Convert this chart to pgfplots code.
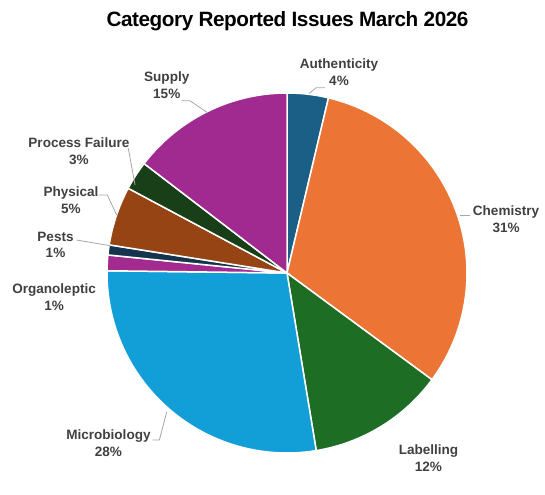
\documentclass[border=0pt]{standalone}
\usepackage{pgfplots}
\pgfplotsset{compat=1.18}
\usepackage{fontspec}
\setmainfont{Liberation Sans}
\newfontfamily\titlefont{Liberation Sans}[LetterSpace=-2.2]
\definecolor{cAuth}{HTML}{1B5F86}
\definecolor{cChem}{HTML}{EC7434}
\definecolor{cLab}{HTML}{1D6D25}
\definecolor{cMic}{HTML}{129ED6}
\definecolor{cOrg}{HTML}{A32B90}
\definecolor{cPes}{HTML}{15354F}
\definecolor{cPhy}{HTML}{974414}
\definecolor{cPro}{HTML}{183F17}
\definecolor{cSup}{HTML}{A02A8F}
\definecolor{lblgray}{HTML}{404040}
\definecolor{leadgray}{HTML}{A6A6A6}
\tikzset{lbl/.style={font=\bfseries\fontsize{13.6}{17}\selectfont, text=lblgray, align=center, inner sep=0pt},
  lead/.style={draw=leadgray, line width=0.8bp}}
% share (%) / colour, clockwise from 12 o'clock
\def\slices{3.7/cAuth, 31.4/cChem, 12.3/cLab, 27.8/cMic, 1.4/cOrg, 0.9/cPes, 5.3/cPhy, 2.6/cPro, 14.6/cSup}
\begin{document}
\begin{tikzpicture}
\begin{axis}[scale only axis, width=545bp, height=495bp,
  xmin=-1.5944, xmax=1.4333, ymin=-1.2333, ymax=1.5167,
  hide axis, clip=false]
\gdef\cum{0}
\foreach \v/\c in \slices {
  \pgfmathsetmacro\a{90-3.6*\cum}
  \pgfmathsetmacro\b{90-3.6*(\cum+\v)}
  \pgfmathsetmacro\n{\cum+\v}
  \xdef\cum{\n}
  \edef\temp{\noexpand\addplot[fill=\c, draw=white, line width=1.5bp, domain=\b:\a, samples=80, variable=\noexpand\t] ({cos(\noexpand\t)},{sin(\noexpand\t)}) -- (axis cs:0,0) -- cycle;}
  \temp
}
\node[anchor=base, font=\titlefont\bfseries\fontsize{20.8}{24}\selectfont] at (axis cs:0.003,1.367) {Category Reported Issues March 2026};
\node[lbl] at (axis cs:0.289,1.114) {Authenticity\\4\%};
\node[lbl] at (axis cs:1.217,0.300) {Chemistry\\31\%};
\node[lbl] at (axis cs:0.786,-1.028) {Labelling\\12\%};
\node[lbl] at (axis cs:-0.992,-0.944) {Microbiology\\28\%};
\node[lbl] at (axis cs:-1.294,-0.133) {Organoleptic\\1\%};
\node[lbl] at (axis cs:-1.286,0.156) {Pests\\1\%};
\node[lbl] at (axis cs:-1.2,0.406) {Physical\\5\%};
\node[lbl] at (axis cs:-1.156,0.678) {Process Failure\\3\%};
\node[lbl] at (axis cs:-0.668,1.044) {Supply\\15\%};
\draw[lead] (axis cs:0.124,0.998) -- (axis cs:0.161,1.029) -- (axis cs:0.211,1.029);
\draw[lead] (axis cs:0.961,0.322) -- (axis cs:1.017,0.322);
\draw[lead] (axis cs:-0.668,-0.771) -- (axis cs:-0.709,-0.928) -- (axis cs:-0.746,-0.928);
\draw[lead] (axis cs:-1.168,0.183) -- (axis cs:-0.983,0.152);
\draw[lead] (axis cs:-1.048,0.433) -- (axis cs:-0.998,0.433) -- (axis cs:-0.946,0.322);
\draw[lead] (axis cs:-0.882,0.693) -- (axis cs:-0.844,0.489);
\draw[lead] (axis cs:-0.585,0.957) -- (axis cs:-0.539,0.957) -- (axis cs:-0.439,0.889);
\end{axis}
\pgfresetboundingbox
\path (current axis.south west) rectangle (current axis.north east);
\end{tikzpicture}
\end{document}
